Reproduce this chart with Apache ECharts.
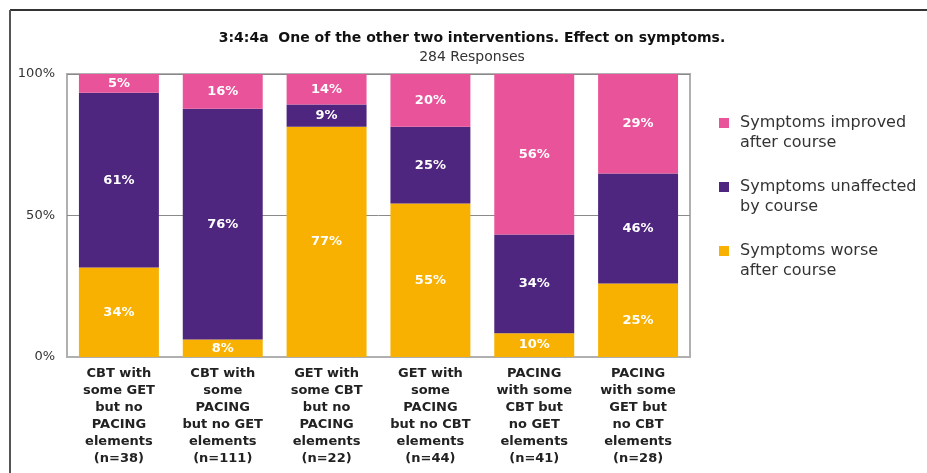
<!DOCTYPE html>
<html>
<head>
<meta charset="utf-8">
<script src="https://cdn.jsdelivr.net/npm/echarts@6/dist/echarts.min.js"></script>
<style>
  html, body { margin: 0; padding: 0; background: #fff; }
  #chart { width: 927px; height: 473px; }
</style>
</head>
<body>
<div id="chart"></div>
<script>
// categories along the x axis
let categories = [
  'CBT with\nsome GET\nbut no\nPACING\nelements\n(n=38)',
  'CBT with\nsome\nPACING\nbut no GET\nelements\n(n=111)',
  'GET with\nsome CBT\nbut no\nPACING\nelements\n(n=22)',
  'GET with\nsome\nPACING\nbut no CBT\nelements\n(n=44)',
  'PACING\nwith some\nCBT but\nno GET\nelements\n(n=41)',
  'PACING\nwith some\nGET but\nno CBT\nelements\n(n=28)'
];
let seriesNames = ['Symptoms improved\nafter course', 'Symptoms unaffected\nby course', 'Symptoms worse\nafter course'];

// segment heights as drawn in the picture (%)
let improved = [6.6, 12.3, 10.8, 18.6, 56.7, 35.2];
let unaffected = [61.8, 81.5, 7.8, 27.2, 34.9, 38.8];
let worse = [31.6, 6.2, 81.4, 54.2, 8.4, 26.0];

// percentages printed on the segments
let improvedLbl = [5, 16, 14, 20, 56, 29];
let unaffectedLbl = [61, 76, 9, 25, 34, 46];
let worseLbl = [34, 8, 77, 55, 10, 25];

let yTicks = [0, 50, 100];

let colors = { improved: '#e9539a', unaffected: '#4f267f', worse: '#f8b100' };
let font = 'DejaVu Sans';

function mkSeries(name, vals, lbls, color) {
  return {
    name: name,
    type: 'bar',
    stack: 'all',
    barCategoryGap: '23%',
    itemStyle: { color: color },
    label: {
      show: true,
      position: 'inside',
      color: '#fff',
      fontFamily: font,
      fontWeight: 'bold',
      fontSize: 13,
      formatter: function(p) { return lbls[p.dataIndex] + '%'; }
    },
    data: vals
  };
}

let chart = echarts.init(document.getElementById('chart'));
chart.setOption({
  animation: false,
  title: {
    text: '3:4:4a  One of the other two interventions. Effect on symptoms.',
    subtext: '284 Responses',
    left: 467,
    textAlign: 'center',
    top: 26,
    itemGap: 5,
    textStyle: { fontFamily: font, fontSize: 14, fontWeight: 'bold', color: '#111' },
    subtextStyle: { fontFamily: font, fontSize: 14, color: '#333' }
  },
  legend: {
    orient: 'vertical',
    left: 714,
    top: 88,
    itemWidth: 10,
    itemHeight: 10,
    itemGap: 4,
    icon: 'rect',
    data: [seriesNames[0], seriesNames[1], seriesNames[2]],
    // blank first line so the marker sits beside the first text line
    formatter: function(name) { return '\n' + name; },
    textStyle: {
      fontFamily: font,
      fontSize: 16,
      lineHeight: 20,
      color: '#333',
      padding: [0, 0, 0, 6]
    }
  },
  grid: {
    left: 67, right: 237, top: 74, bottom: 116,
    show: true,
    borderColor: '#b0b0b0',
    borderWidth: 2
  },
  xAxis: {
    type: 'category',
    data: categories,
    axisLine: { lineStyle: { color: '#b0b0b0', width: 2 } },
    axisTick: { show: false },
    axisLabel: {
      interval: 0,
      margin: 8,
      fontFamily: font,
      fontWeight: 'bold',
      fontSize: 13,
      lineHeight: 17,
      color: '#222'
    }
  },
  yAxis: {
    type: 'value',
    min: yTicks[0],
    max: yTicks[yTicks.length - 1],
    interval: 50,
    axisLine: { show: false },
    axisTick: { show: false },
    splitLine: { lineStyle: { color: '#8a8a8a', width: 1 } },
    axisLabel: {
      margin: 12,
      fontFamily: font,
      fontSize: 13,
      color: '#333',
      formatter: '{value}%'
    }
  },
  graphic: [
    { type: 'line', shape: { x1: 10, y1: 10, x2: 927, y2: 10 }, style: { stroke: '#333', lineWidth: 2 } },
    { type: 'line', shape: { x1: 10, y1: 10, x2: 10, y2: 473 }, style: { stroke: '#555', lineWidth: 2 } }
  ],
  series: [
    mkSeries(seriesNames[2], worse, worseLbl, colors.worse),
    mkSeries(seriesNames[1], unaffected, unaffectedLbl, colors.unaffected),
    mkSeries(seriesNames[0], improved, improvedLbl, colors.improved)
  ]
});
</script>
</body>
</html>
